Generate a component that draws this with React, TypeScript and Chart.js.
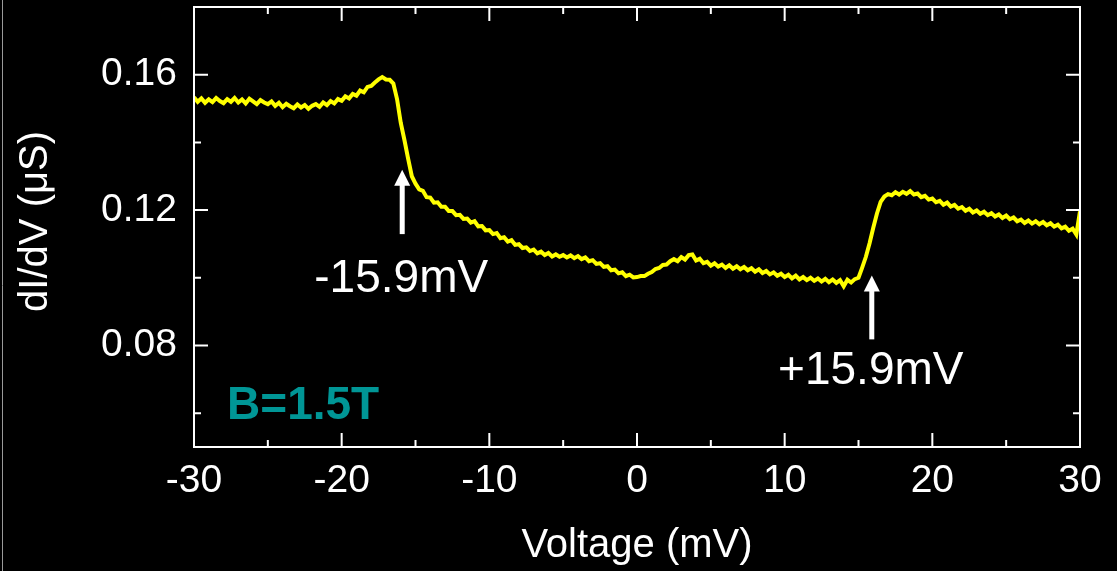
import React, { useEffect, useRef } from "react";
import { Chart, registerables } from "chart.js";

Chart.register(...registerables);

// ---- data ----
const V_START = -30; // mV, first sample
const V_STEP = 0.25; // mV, sampling step
const conductance = [
  // -30 .. -27.75
  0.1533, 0.1520, 0.1530, 0.1517, 0.1527, 0.1519, 0.1531, 0.1522, 0.1516, 0.1528,
  // -27.5 .. -25.25
  0.1520, 0.1531, 0.1518, 0.1527, 0.1515, 0.1529, 0.1521, 0.1513, 0.1525, 0.1518,
  // -25 .. -22.75
  0.1513, 0.1521, 0.1508, 0.1517, 0.1504, 0.1514, 0.1507, 0.1501, 0.1512, 0.1503,
  // -22.5 .. -20.25
  0.1510, 0.1499, 0.1508, 0.1513, 0.1505, 0.1518, 0.1510, 0.1522, 0.1515, 0.1528,
  // -20 .. -17.75
  0.1523, 0.1536, 0.1530, 0.1543, 0.1538, 0.1553, 0.1548, 0.1564, 0.1567, 0.1577,
  // -17.5 .. -15.25
  0.1586, 0.1593, 0.1586, 0.1585, 0.1574, 0.1528, 0.1458, 0.1407, 0.1352, 0.1300,
  // -15 .. -12.75
  0.1278, 0.1261, 0.1257, 0.1238, 0.1237, 0.1222, 0.1223, 0.1210, 0.1210, 0.1197,
  // -12.5 .. -10.25
  0.1197, 0.1185, 0.1186, 0.1174, 0.1175, 0.1163, 0.1167, 0.1152, 0.1153, 0.1140,
  // -10 .. -7.75
  0.1141, 0.1129, 0.1132, 0.1117, 0.1120, 0.1107, 0.1111, 0.1097, 0.1099, 0.1088,
  // -7.5 .. -5.25
  0.1090, 0.1079, 0.1083, 0.1072, 0.1077, 0.1067, 0.1073, 0.1063, 0.1069, 0.1062,
  // -5 .. -2.75
  0.1067, 0.1060, 0.1066, 0.1058, 0.1064, 0.1055, 0.1060, 0.1049, 0.1052, 0.1041,
  // -2.5 .. -0.25
  0.1043, 0.1032, 0.1034, 0.1022, 0.1024, 0.1013, 0.1016, 0.1005, 0.1009, 0.1001,
  // 0 .. 2.25
  0.1002, 0.1005, 0.1005, 0.1012, 0.1017, 0.1026, 0.1029, 0.1038, 0.1039, 0.1049,
  // 2.5 .. 4.75
  0.1055, 0.1049, 0.1061, 0.1054, 0.1067, 0.1069, 0.1051, 0.1056, 0.1043, 0.1047,
  // 5 .. 7.25
  0.1036, 0.1043, 0.1033, 0.1039, 0.1029, 0.1037, 0.1027, 0.1034, 0.1025, 0.1032,
  // 7.5 .. 9.75
  0.1022, 0.1028, 0.1018, 0.1025, 0.1014, 0.1020, 0.1010, 0.1016, 0.1006, 0.1012,
  // 10 .. 12.25
  0.1002, 0.1009, 0.0998, 0.1006, 0.0995, 0.1002, 0.0993, 0.1000, 0.0991, 0.0998,
  // 12.5 .. 14.75
  0.0989, 0.0997, 0.0987, 0.0995, 0.0985, 0.0993, 0.0975, 0.0994, 0.0986, 0.0996,
  // 15 .. 17.25
  0.1000, 0.1030, 0.1062, 0.1102, 0.1148, 0.1190, 0.1224, 0.1240, 0.1247, 0.1244,
  // 17.5 .. 19.75
  0.1253, 0.1246, 0.1254, 0.1248, 0.1256, 0.1246, 0.1249, 0.1238, 0.1242, 0.1231,
  // 20 .. 22.25
  0.1234, 0.1223, 0.1227, 0.1216, 0.1222, 0.1210, 0.1215, 0.1204, 0.1209, 0.1198,
  // 22.5 .. 24.75
  0.1204, 0.1193, 0.1199, 0.1189, 0.1195, 0.1185, 0.1191, 0.1181, 0.1187, 0.1177,
  // 25 .. 27.25
  0.1184, 0.1173, 0.1178, 0.1167, 0.1172, 0.1162, 0.1169, 0.1160, 0.1167, 0.1158,
  // 27.5 .. 29.75
  0.1165, 0.1155, 0.1161, 0.1151, 0.1157, 0.1146, 0.1151, 0.1139, 0.1145, 0.1128,
  // 30
  0.1196,
];
const voltage = conductance.map((_, i) => V_START + i * V_STEP);

const xMajorTicks = [-30, -20, -10, 0, 10, 20, 30];
const xMinorTicks = [-25, -15, -5, 5, 15, 25];
const yMajorTicks = [0.08, 0.12, 0.16];
const yMinorTicks = [0.06, 0.1, 0.14];

const xTitle = "Voltage (mV)";
const yTitle = " dI/dV (\u03bcS)";
const fieldLabel = "B=1.5T";
const gapLabels = ["-15.9mV", "+15.9mV"];
const gapVoltages = [-15.9, 15.9];

// annotation placement (in data units)
const arrowTips = [0.1319, 0.1007];
const arrowTails = [0.1129, 0.0818];
const labelBaselines = [0.0957, 0.0687];
const fieldLabelPos = { x: -27.76, y: 0.0584 };

const FONT = "Arial, 'Liberation Sans', Helvetica, sans-serif";

const framePlugin = {
  id: "frame",
  beforeDraw(chart: any) {
    const { ctx, width, height } = chart;
    ctx.save();
    ctx.fillStyle = "#000";
    ctx.fillRect(0, 0, width, height);
    ctx.strokeStyle = "#9a9a9a";
    ctx.lineWidth = 1;
    ctx.beginPath();
    ctx.moveTo(2.5, 0);
    ctx.lineTo(2.5, height);
    ctx.stroke();
    ctx.restore();
  },
  afterDatasetsDraw(chart: any) {
    const { ctx, chartArea: a, scales } = chart;
    const xs = scales.x;
    const ys = scales.y;
    ctx.save();
    ctx.strokeStyle = "#fff";
    ctx.lineWidth = 2;
    ctx.strokeRect(a.left, a.top, a.right - a.left, a.bottom - a.top);

    const vTick = (v: number, len: number) => {
      const p = xs.getPixelForValue(v);
      ctx.beginPath();
      ctx.moveTo(p, a.bottom);
      ctx.lineTo(p, a.bottom - len);
      ctx.moveTo(p, a.top);
      ctx.lineTo(p, a.top + len);
      ctx.stroke();
    };
    const hTick = (v: number, len: number) => {
      const p = ys.getPixelForValue(v);
      ctx.beginPath();
      ctx.moveTo(a.left, p);
      ctx.lineTo(a.left + len, p);
      ctx.moveTo(a.right, p);
      ctx.lineTo(a.right - len, p);
      ctx.stroke();
    };
    xMajorTicks.forEach((v) => vTick(v, 14));
    xMinorTicks.forEach((v) => vTick(v, 7));
    yMajorTicks.forEach((v) => hTick(v, 14));
    yMinorTicks.forEach((v) => hTick(v, 7));

    // arrows + labels
    ctx.fillStyle = "#fff";
    ctx.font = `46px ${FONT}`;
    ctx.textAlign = "center";
    ctx.textBaseline = "alphabetic";
    gapVoltages.forEach((gv, i) => {
      const px = xs.getPixelForValue(gv);
      const tip = ys.getPixelForValue(arrowTips[i]);
      const tail = ys.getPixelForValue(arrowTails[i]);
      const headH = 16;
      const headW = 8;
      ctx.beginPath();
      ctx.moveTo(px, tip);
      ctx.lineTo(px - headW, tip + headH);
      ctx.lineTo(px + headW, tip + headH);
      ctx.closePath();
      ctx.fill();
      ctx.fillRect(px - 2.5, tip + headH - 1, 5, tail - tip - headH + 1);
      ctx.fillText(gapLabels[i], px - 1, ys.getPixelForValue(labelBaselines[i]));
    });

    ctx.fillStyle = "#009696";
    ctx.font = `bold 46px ${FONT}`;
    ctx.textAlign = "left";
    ctx.fillText(fieldLabel, xs.getPixelForValue(fieldLabelPos.x), ys.getPixelForValue(fieldLabelPos.y));
    ctx.restore();
  },
};

export default function App() {
  const canvasRef = useRef<HTMLCanvasElement | null>(null);

  useEffect(() => {
    const canvas = canvasRef.current;
    if (!canvas) return;
    const chart = new Chart(canvas, {
      type: "line",
      data: {
        datasets: [
          {
            data: conductance.map((g, i) => ({ x: voltage[i], y: g })),
            borderColor: "#ffff00",
            borderWidth: 4,
            pointRadius: 0,
            tension: 0,
            fill: false,
          },
        ],
      },
      options: {
        responsive: false,
        animation: false,
        devicePixelRatio: 1,
        layout: { padding: { left: 0, top: 7, right: 37, bottom: 0 } },
        plugins: { legend: { display: false }, tooltip: { enabled: false } },
        scales: {
          x: {
            type: "linear",
            min: -30,
            max: 30,
            grid: { display: false, drawTicks: false },
            border: { display: false },
            afterBuildTicks: (s: any) => {
              s.ticks = xMajorTicks.map((v) => ({ value: v }));
            },
            ticks: {
              color: "#fff",
              font: { size: 39, family: FONT },
              padding: 11,
              maxRotation: 0,
              autoSkip: false,
              callback: (v: any) => String(v),
            },
            title: {
              display: true,
              text: xTitle,
              color: "#fff",
              font: { size: 40, family: FONT },
              padding: { top: 0, bottom: 1 },
            },
            afterFit: (s: any) => {
              s.height = 124;
              s.paddingLeft = 0;
              s.paddingRight = 0;
            },
          },
          y: {
            type: "linear",
            min: 0.05,
            max: 0.18,
            grid: { display: false, drawTicks: false },
            border: { display: false },
            afterBuildTicks: (s: any) => {
              s.ticks = yMajorTicks.map((v) => ({ value: v }));
            },
            ticks: {
              color: "#fff",
              font: { size: 39, family: FONT },
              padding: 17,
              autoSkip: false,
              callback: (v: any) => Number(v).toFixed(2),
            },
            title: {
              display: true,
              text: yTitle,
              color: "#fff",
              font: { size: 40, family: FONT },
              padding: { top: 12, bottom: 0 },
            },
            afterFit: (s: any) => {
              s.width = 194;
              s.paddingTop = 0;
              s.paddingBottom = 0;
            },
          },
        },
      },
      plugins: [framePlugin],
    } as any);
    return () => chart.destroy();
  }, []);

  return (
    <div style={{ position: "fixed", left: 0, top: 0, width: 1117, height: 571, background: "#000" }}>
      <canvas ref={canvasRef} width={1117} height={571} style={{ display: "block" }} />
    </div>
  );
}
